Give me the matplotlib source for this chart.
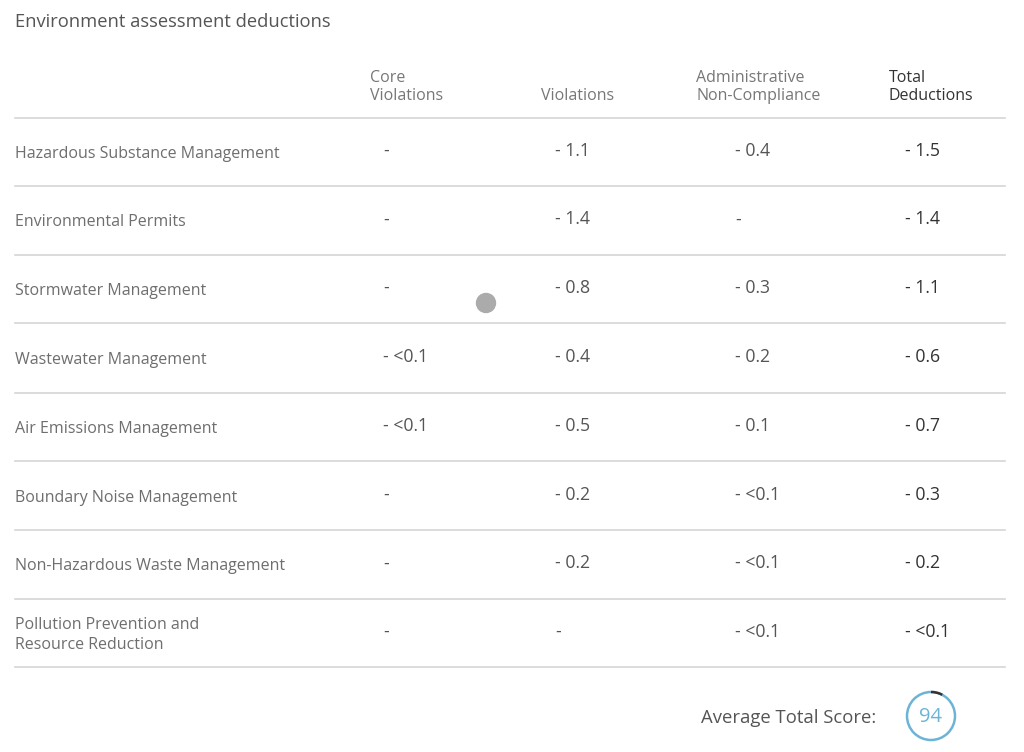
import numpy as np
import matplotlib.pyplot as plt
from matplotlib.patches import Circle, Arc

# ---------- data ----------
TITLE = "Environment assessment deductions"
COL_HEADERS = ["Core\nViolations", "Violations", "Administrative\nNon-Compliance", "Total\nDeductions"]
ROW_LABELS = [
    "Hazardous Substance Management",
    "Environmental Permits",
    "Stormwater Management",
    "Wastewater Management",
    "Air Emissions Management",
    "Boundary Noise Management",
    "Non-Hazardous Waste Management",
    "Pollution Prevention and\nResource Reduction",
]
# None -> "-" (keine Abzüge)
core_violations = [None, None, None, "<0.1", "<0.1", None, None, None]
violations      = ["1.1", "1.4", "0.8", "0.4", "0.5", "0.2", "0.2", None]
admin_noncomp   = ["0.4", None, "0.3", "0.2", "0.1", "<0.1", "<0.1", "<0.1"]
total_deduct    = ["1.5", "1.4", "1.1", "0.6", "0.7", "0.3", "0.2", "<0.1"]
AVG_SCORE = 94

# ---------- layout (pixel coords) ----------
W, H = 1024, 752
COL_X = [383, 555, 735, 905]
HEAD_X = [370, 541, 696, 889]
ROW_SEP = [118, 186, 255, 323, 393, 461, 530, 599, 667]
FONT = ["Open Sans", "DejaVu Sans"]

fig = plt.figure(figsize=(W / 100, H / 100), dpi=100)
ax = fig.add_axes([0, 0, 1, 1])
ax.set_xlim(0, W)
ax.set_ylim(H, 0)
ax.axis("off")

ax.text(15, 22, TITLE, fontsize=13.2, color="#555555", va="center", ha="left", family=FONT)

# Kopfzeile
for i, (hx, txt) in enumerate(zip(HEAD_X, COL_HEADERS)):
    col = "#333333" if i == 3 else "#777777"
    ax.text(hx, 104, txt, fontsize=11.5, color=col, va="bottom", ha="left",
            linespacing=1.2, family=FONT)

# Trennlinien
for y in ROW_SEP:
    ax.plot([15, 1005], [y, y], color="#d6d6d6", lw=1.2)

columns = [core_violations, violations, admin_noncomp, total_deduct]
for r, label in enumerate(ROW_LABELS):
    yc = (ROW_SEP[r] + ROW_SEP[r + 1]) / 2 + 2
    ax.text(15, yc, label, fontsize=11.5, color="#6e6e6e", va="center", ha="left",
            linespacing=1.3, family=FONT)
    for c, vals in enumerate(columns):
        v = vals[r]
        txt = "-" if v is None else f"- {v}"
        col = "#333333" if c == 3 else "#555555"
        ax.text(COL_X[c], yc - 3, txt, fontsize=12.7, color=col, va="center", ha="left",
                family=FONT)

# grauer Punkt (Cursor)
ax.add_patch(Circle((486, 303), 9.5, color="#ababab", zorder=3))

# Durchschnittswert
ax.text(701, 718, "Average Total Score:", fontsize=13.3, color="#555555",
        va="center", ha="left", family=FONT)
ax.add_patch(Circle((931, 716), 24, fill=False, ec="#6cb4d6", lw=1.8))
ax.add_patch(Arc((931, 716), 48, 48, theta1=-90, theta2=-62, color="#333333", lw=1.8))
ax.text(931, 717, str(AVG_SCORE), fontsize=14.5, color="#6cb4d6", va="center", ha="center",
        family=FONT)

fig.savefig("out.png", dpi=100, facecolor="white")
